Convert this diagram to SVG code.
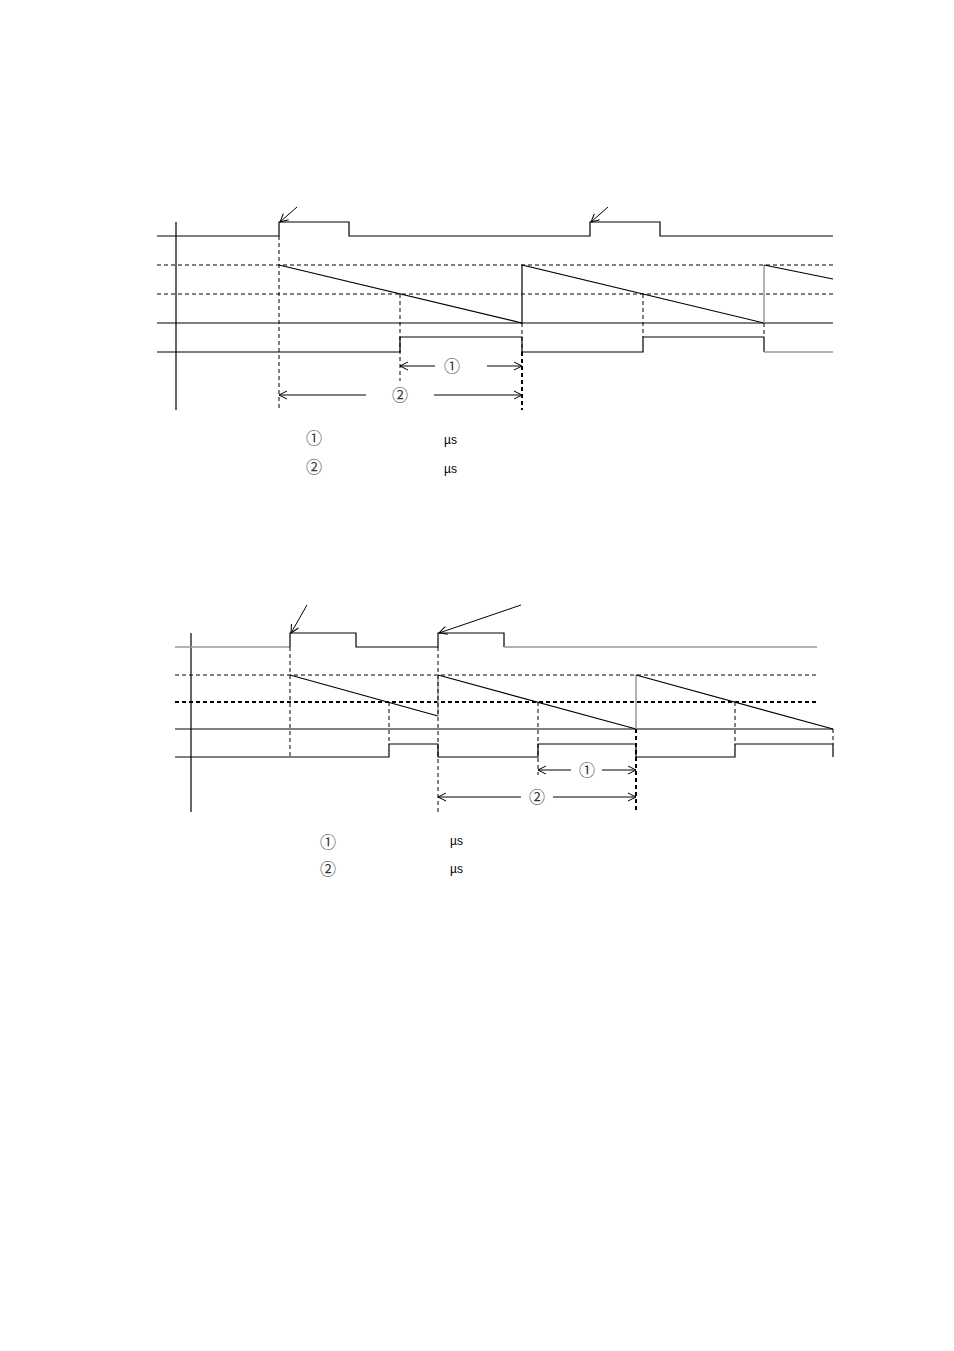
<svg xmlns="http://www.w3.org/2000/svg" width="954" height="1351" viewBox="0 0 954 1351">
<style>
.s{fill:none;stroke:#000;stroke-width:1.2}
.g{fill:none;stroke:#999;stroke-width:1.5}
.d{fill:none;stroke:#000;stroke-width:1;stroke-dasharray:4 3}
.dt{fill:none;stroke:#000;stroke-width:2;stroke-dasharray:4 3}
.a{fill:none;stroke:#000;stroke-width:1;marker-end:url(#ah)}
.t{font-family:"Noto Sans CJK JP","Liberation Sans",sans-serif;font-size:16px;fill:#333}
.u{font-family:"Liberation Sans",sans-serif;font-size:12px;fill:#000}
</style>
<defs>
<marker id="ah" markerWidth="10" markerHeight="10" refX="9" refY="5" orient="auto" markerUnits="userSpaceOnUse">
<path d="M1,1 L9,5 L1,9" fill="none" stroke="#000" stroke-width="1"/>
</marker>
</defs>
<rect width="954" height="1351" fill="#fff"/>

<g id="chart1">
<g id="c1-axes">
<line class="s" x1="176" y1="222" x2="176" y2="410"/>
<line class="d" x1="157" y1="265" x2="833" y2="265"/>
<line class="d" x1="157" y1="294" x2="833" y2="294"/>
<line class="s" x1="157" y1="323" x2="833" y2="323"/>
</g>
<g id="c1-pulse">
<polyline class="s" points="157,236 279,236 279,222 349,222 349,236 590,236 590,222 660,222 660,236 833,236"/>
</g>
<g id="c1-ramp">
<polyline class="s" points="279,265 522,323 522,265 764,323"/>
<line class="g" x1="764" y1="323" x2="764" y2="265"/>
<line class="s" x1="764" y1="265" x2="833" y2="279"/>
</g>
<g id="c1-square">
<polyline class="s" points="157,352 400,352 400,337 522,337 522,352 643,352 643,337 764,337 764,352"/>
<line class="g" x1="764" y1="352" x2="833" y2="352"/>
</g>
<g id="c1-guides">
<line class="d" x1="279" y1="236" x2="279" y2="410"/>
<line class="d" x1="400" y1="294" x2="400" y2="381"/>
<line class="d" x1="522" y1="323" x2="522" y2="352"/>
<line class="dt" x1="522" y1="352" x2="522" y2="410"/>
<line class="d" x1="643" y1="294" x2="643" y2="337"/>
<line class="d" x1="764" y1="323" x2="764" y2="337"/>
</g>
<g id="c1-connectors">
<line class="a" x1="297" y1="207" x2="280" y2="222"/>
<line class="a" x1="608" y1="207" x2="591" y2="222"/>
<line class="a" x1="435" y1="366" x2="400" y2="366"/>
<line class="a" x1="487" y1="366" x2="522" y2="366"/>
<line class="a" x1="366" y1="395" x2="279" y2="395"/>
<line class="a" x1="434" y1="395" x2="522" y2="395"/>
</g>
<g id="c1-labels">
<text class="t" x="452" y="372" text-anchor="middle">①</text>
<text class="t" x="400" y="401" text-anchor="middle">②</text>
<text class="t" x="314" y="444" text-anchor="middle">①</text>
<text class="t" x="314" y="473" text-anchor="middle">②</text>
<text class="u" x="444" y="444">µs</text>
<text class="u" x="444" y="473">µs</text>
</g>
</g>

<g id="chart2">
<g id="c2-axes">
<line class="s" x1="191" y1="633" x2="191" y2="812"/>
<line class="d" x1="175" y1="675" x2="817" y2="675"/>
<line class="dt" x1="175" y1="702" x2="817" y2="702"/>
<line class="s" x1="175" y1="729" x2="833" y2="729"/>
</g>
<g id="c2-pulse">
<line class="g" x1="175" y1="647" x2="290" y2="647"/>
<polyline class="s" points="290,647 290,633 356,633 356,647 438,647 438,633 504,633 504,647"/>
<line class="g" x1="504" y1="647" x2="817" y2="647"/>
</g>
<g id="c2-ramp">
<line class="s" x1="290" y1="675" x2="438" y2="716"/>
<line class="g" x1="438" y1="716" x2="438" y2="675"/>
<line class="s" x1="438" y1="675" x2="636" y2="729"/>
<line class="g" x1="636" y1="729" x2="636" y2="675"/>
<line class="s" x1="636" y1="675" x2="833" y2="729"/>
</g>
<g id="c2-square">
<polyline class="s" points="175,757 389,757 389,744 438,744 438,757 538,757 538,744 636,744 636,757 735,757 735,744 833,744 833,757"/>
</g>
<g id="c2-guides">
<line class="d" x1="290" y1="647" x2="290" y2="757"/>
<line class="d" x1="389" y1="702" x2="389" y2="744"/>
<line class="d" x1="438" y1="647" x2="438" y2="812"/>
<line class="d" x1="538" y1="702" x2="538" y2="775"/>
<line class="dt" x1="636" y1="729" x2="636" y2="812"/>
<line class="d" x1="735" y1="702" x2="735" y2="744"/>
<line class="d" x1="833" y1="729" x2="833" y2="744"/>
</g>
<g id="c2-connectors">
<line class="a" x1="307" y1="605" x2="291" y2="633"/>
<line class="a" x1="521" y1="605" x2="439" y2="633"/>
<line class="a" x1="571" y1="770" x2="538" y2="770"/>
<line class="a" x1="602" y1="770" x2="636" y2="770"/>
<line class="a" x1="521" y1="797" x2="438" y2="797"/>
<line class="a" x1="553" y1="797" x2="636" y2="797"/>
</g>
<g id="c2-labels">
<text class="t" x="587" y="776" text-anchor="middle">①</text>
<text class="t" x="537" y="803" text-anchor="middle">②</text>
<text class="t" x="328" y="848" text-anchor="middle">①</text>
<text class="t" x="328" y="875" text-anchor="middle">②</text>
<text class="u" x="450" y="845">µs</text>
<text class="u" x="450" y="873">µs</text>
</g>
</g>
</svg>
